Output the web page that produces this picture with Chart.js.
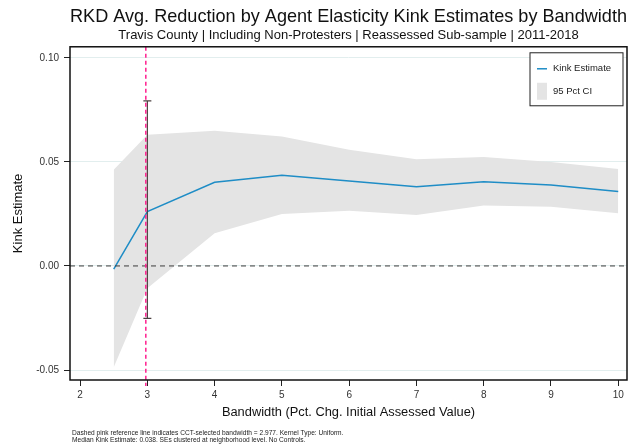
<!DOCTYPE html>
<html>
<head>
<meta charset="utf-8">
<script src="https://cdn.jsdelivr.net/npm/chart.js@4/dist/chart.umd.min.js"></script>
<style>
  html, body { margin: 0; padding: 0; background: #fff; }
</style>
</head>
<body>
<canvas id="kinkChart" width="632" height="447"></canvas>
<script>
// RKD kink estimates by bandwidth
const bandwidths = [2.5, 3, 4, 5, 6, 7, 8, 9, 10];
const kinkEstimates = [-0.0015, 0.0261, 0.0402, 0.0436, 0.0408, 0.0381, 0.0405, 0.0389, 0.0358];
const ciUpper = [0.0462, 0.0630, 0.0649, 0.0622, 0.0558, 0.0513, 0.0523, 0.0499, 0.0466];
const ciLower = [-0.0487, -0.0107, 0.0157, 0.0250, 0.0265, 0.0245, 0.0290, 0.0285, 0.0253];

const xTicks = [2, 3, 4, 5, 6, 7, 8, 9, 10];
const yTicks = [-0.05, 0, 0.05, 0.10];

// CCT-selected bandwidth and the CI bar of the estimate at bw = 3
const cctBandwidth = 2.977;
const cctBarX = 3;
const cctBarRange = [-0.0252, 0.0793];

const footnotes = [
    'Dashed pink reference line indicates CCT-selected bandwidth = 2.977. Kernel Type: Uniform.',
    'Median Kink Estimate: 0.038. SEs clustered at neighborhood level. No Controls.'
];

const FONT = '"Liberation Sans", Arial, Helvetica, sans-serif';
const BLUE = '#1f8dc6';
const CI_GREY = '#e4e4e4';

const toPoints = ys => bandwidths.map((b, i) => ({ x: b, y: ys[i] }));

const overlays = {
    id: 'overlays',
    afterDatasetsDraw(chart) {
        const { ctx, chartArea: a, scales: { x, y } } = chart;
        ctx.save();
        ctx.beginPath();
        ctx.rect(a.left, a.top, a.width, a.height);
        ctx.clip();

        // zero reference
        const y0 = y.getPixelForValue(0);
        ctx.setLineDash([5, 4]);
        ctx.strokeStyle = '#3c3c3c';
        ctx.lineWidth = 1;
        ctx.beginPath();
        ctx.moveTo(a.left, y0);
        ctx.lineTo(a.right, y0);
        ctx.stroke();

        // CI bar at the CCT bandwidth
        const bx = x.getPixelForValue(cctBarX);
        const bLo = y.getPixelForValue(cctBarRange[0]);
        const bHi = y.getPixelForValue(cctBarRange[1]);
        ctx.setLineDash([]);
        ctx.strokeStyle = '#4b4040';
        ctx.lineWidth = 1.2;
        ctx.beginPath();
        ctx.moveTo(bx, bLo); ctx.lineTo(bx, bHi);
        ctx.moveTo(bx - 4, bLo); ctx.lineTo(bx + 4, bLo);
        ctx.moveTo(bx - 4, bHi); ctx.lineTo(bx + 4, bHi);
        ctx.stroke();
        ctx.restore();

        // pink bandwidth line, runs over the axis a little
        const px = x.getPixelForValue(cctBandwidth);
        ctx.save();
        ctx.setLineDash([4, 3]);
        ctx.strokeStyle = '#ff1f8f';
        ctx.lineWidth = 1.5;
        ctx.beginPath();
        ctx.moveTo(px, a.top);
        ctx.lineTo(px, a.bottom + 6);
        ctx.stroke();
        ctx.restore();
    },
    afterDraw(chart) {
        const { ctx, chartArea: a } = chart;
        ctx.save();
        // frame
        ctx.strokeStyle = '#111';
        ctx.lineWidth = 1.5;
        ctx.strokeRect(a.left, a.top, a.width, a.height);

        // legend box
        const lw = 93, lh = 53;
        const lx = a.right - 4 - lw, ly = a.top + 6;
        ctx.fillStyle = '#fff';
        ctx.fillRect(lx, ly, lw, lh);
        ctx.strokeStyle = '#222';
        ctx.lineWidth = 1;
        ctx.strokeRect(lx, ly, lw, lh);

        ctx.strokeStyle = BLUE;
        ctx.lineWidth = 1.5;
        ctx.beginPath();
        ctx.moveTo(lx + 7, ly + 16);
        ctx.lineTo(lx + 17, ly + 16);
        ctx.stroke();
        ctx.fillStyle = CI_GREY;
        ctx.fillRect(lx + 7, ly + 30, 10, 17);

        ctx.fillStyle = '#222';
        ctx.font = '9.5px ' + FONT;
        ctx.textBaseline = 'middle';
        ctx.textAlign = 'left';
        ctx.fillText('Kink Estimate', lx + 23, ly + 16);
        ctx.fillText('95 Pct CI', lx + 23, ly + 39);

        // footnotes
        ctx.font = '6.6px ' + FONT;
        ctx.fillStyle = '#222';
        footnotes.forEach((t, i) => ctx.fillText(t, 72, 433 + i * 7));
        ctx.restore();
    }
};

new Chart(document.getElementById('kinkChart'), {
    type: 'line',
    data: {
        datasets: [
            {
                label: 'Kink Estimate',
                data: toPoints(kinkEstimates),
                borderColor: BLUE,
                borderWidth: 1.5,
                pointRadius: 0,
                fill: false,
                order: 0
            },
            {
                label: '95 Pct CI',
                data: toPoints(ciUpper),
                borderWidth: 0,
                pointRadius: 0,
                backgroundColor: CI_GREY,
                fill: '+1',
                order: 1
            },
            {
                label: 'ci lower',
                data: toPoints(ciLower),
                borderWidth: 0,
                pointRadius: 0,
                fill: false,
                order: 2
            }
        ]
    },
    options: {
        responsive: false,
        animation: false,
        layout: { padding: { left: 0, right: 5, bottom: 27, top: 0 } },
        plugins: {
            legend: { display: false },
            tooltip: { enabled: false },
            title: {
                display: true,
                fullSize: false,
                text: 'RKD Avg. Reduction by Agent Elasticity Kink Estimates by Bandwidth',
                color: '#111',
                font: { family: FONT, size: 18.4, weight: 'normal', lineHeight: 1.2 },
                padding: { top: 6, bottom: 0 }
            },
            subtitle: {
                display: true,
                fullSize: false,
                text: 'Travis County | Including Non-Protesters | Reassessed Sub-sample | 2011-2018',
                color: '#111',
                font: { family: FONT, size: 13, weight: 'normal', lineHeight: 1.2 },
                padding: { top: 0, bottom: 3.1 }
            }
        },
        scales: {
            x: {
                type: 'linear',
                min: 1.85,
                max: 10.13,
                afterBuildTicks: s => { s.ticks = xTicks.map(v => ({ value: v })); },
                afterFit: s => { s.height = 40; },
                border: { display: false },
                grid: { drawOnChartArea: false, tickLength: 6, tickColor: '#222', tickWidth: 1 },
                ticks: {
                    color: '#333',
                    padding: 3,
                    font: { family: FONT, size: 10 },
                    callback: v => String(v)
                },
                title: {
                    display: true,
                    text: 'Bandwidth (Pct. Chg. Initial Assessed Value)',
                    color: '#111',
                    font: { family: FONT, size: 12.85, lineHeight: 1.2 },
                    padding: { top: 0, bottom: 0 }
                }
            },
            y: {
                min: -0.0548,
                max: 0.1053,
                afterBuildTicks: s => { s.ticks = yTicks.map(v => ({ value: v })); },
                afterFit: s => { s.width = 70; },
                border: { display: false },
                grid: { color: '#e2eeee', lineWidth: 1, tickLength: 6, tickColor: '#222', tickWidth: 1 },
                ticks: {
                    color: '#333',
                    padding: 5,
                    font: { family: FONT, size: 10 },
                    callback: v => v.toFixed(2)
                },
                title: {
                    display: true,
                    text: 'Kink Estimate',
                    color: '#111',
                    font: { family: FONT, size: 13, lineHeight: 1.2 },
                    padding: { top: 11, bottom: 0 }
                }
            }
        }
    },
    plugins: [overlays]
});
</script>
</body>
</html>
